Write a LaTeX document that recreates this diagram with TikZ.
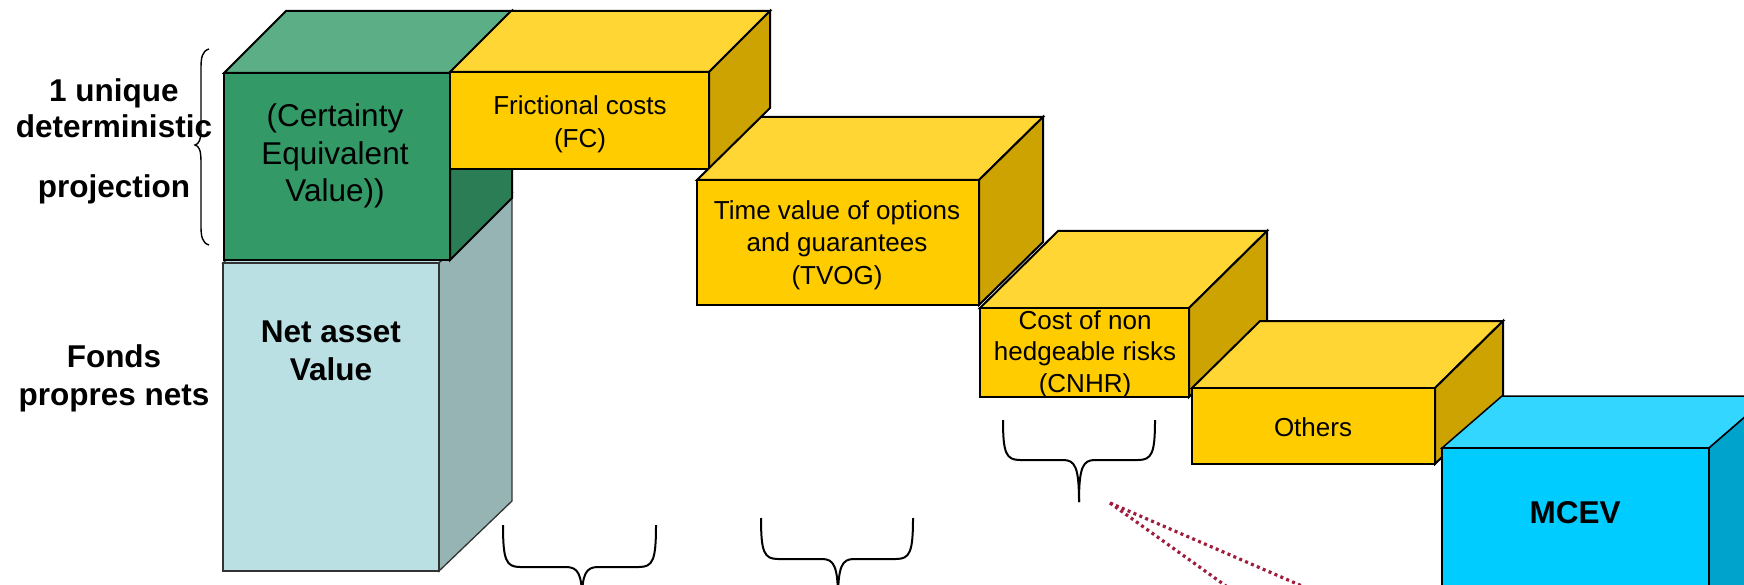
\documentclass[tikz,border=0pt]{standalone}
\usepackage{fontspec}
\setmainfont{Liberation Sans}

\definecolor{ylwfront}{HTML}{FFCC00}
\definecolor{ylwtop}{HTML}{FFD633}
\definecolor{ylwside}{HTML}{CCA300}
\definecolor{grnfront}{HTML}{339966}
\definecolor{grntop}{HTML}{5BAE85}
\definecolor{grnside}{HTML}{2B7D55}
\definecolor{navfront}{HTML}{BAE0E3}
\definecolor{navside}{HTML}{97B4B5}
\definecolor{cynfront}{HTML}{00CCFF}
\definecolor{cyntop}{HTML}{33D6FF}
\definecolor{cynside}{HTML}{00A3CC}
\definecolor{fanred}{HTML}{A01C3C}

% a box seen in oblique view: front rectangle, top face and right face
% #1 left, #2 top, #3 right, #4 bottom, #5/#6 depth offsets, #7 front, #8 top, #9 side
\newcommand\solidblock[9]{%
  \filldraw[blockline, fill=#8] (#1,#2) -- (#1+#5,#2-#6) -- (#3+#5,#2-#6) -- (#3,#2) -- cycle;
  \filldraw[blockline, fill=#9] (#3,#2) -- (#3+#5,#2-#6) -- (#3+#5,#4-#6) -- (#3,#4) -- cycle;
  \filldraw[blockline, fill=#7] (#1,#2) rectangle (#3,#4);
}

\tikzset{
  blockline/.style={draw=black, line width=2},
  bigtxt/.style={inner sep=0pt, align=center, font=\fontsize{31.5}{38}\selectfont},
  boldtxt/.style={inner sep=0pt, align=center, font=\bfseries\fontsize{31.5}{38}\selectfont},
  smalltxt/.style={inner sep=0pt, align=center, font=\fontsize{26}{33}\selectfont},
  bracestroke/.style={draw=black, line width=2},
  fandot/.style={draw=fanred, line width=3.2, dash pattern=on 3pt off 3.4pt},
}

\begin{document}
\begin{tikzpicture}[x=1pt, y=-1pt]
\useasboundingbox (0,0) rectangle (1744,585);

% net asset value column
\begin{scope}[blockline/.style={draw=black!80, line width=1.3}]
  \solidblock{223}{263}{439}{571}{73}{70}{navfront}{navfront}{navside}
\end{scope}
% certainty equivalent value
\solidblock{224}{73}{450}{260}{62}{62}{grnfront}{grntop}{grnside}
% cost blocks
\solidblock{450}{72}{709}{169}{61}{61}{ylwfront}{ylwtop}{ylwside}
\solidblock{697}{180}{979}{305}{64}{63}{ylwfront}{ylwtop}{ylwside}
\solidblock{980}{308}{1189}{397}{78}{77}{ylwfront}{ylwtop}{ylwside}
\solidblock{1192}{388}{1435}{464}{68}{67}{ylwfront}{ylwtop}{ylwside}
% result
\begin{scope}[blockline/.style={draw=black, line width=1.5}]
  \solidblock{1442}{448}{1709}{640}{60}{52}{cynfront}{cyntop}{cynside}
\end{scope}

% texts
\node[boldtxt, font=\bfseries\fontsize{31.5}{36}\selectfont] (lab1) at (114,141)
  {1 unique\\deterministic\\[24pt]projection};
\node[boldtxt] (lab2) at (114,378) {Fonds\\propres nets};
\node[bigtxt, font=\fontsize{31.5}{37.5}\selectfont] (cev) at (335,156)
  {(Certainty\\Equivalent\\Value))};
\node[boldtxt, font=\bfseries\fontsize{31.5}{38.5}\selectfont] (nav) at (331,351)
  {Net asset\\Value};
\node[smalltxt] (fc) at (580,124) {Frictional costs\\(FC)};
\node[smalltxt, font=\fontsize{26}{32.5}\selectfont] (tvog) at (837,245)
  {Time value of options\\and guarantees\\(TVOG)};
\node[smalltxt, font=\fontsize{26}{31.5}\selectfont] (cnhr) at (1085,354)
  {Cost of non\\hedgeable risks\\(CNHR)};
\node[smalltxt] (oth) at (1313,427) {Others};
\node[boldtxt] (mcev) at (1575,513) {MCEV};

% brace beside the deterministic projection
\draw[bracestroke, line width=1.4]
  (209,49) .. controls (202,51) and (201,58) .. (201,68) -- (201,128)
  .. controls (201,140) and (199,144) .. (195,145)
  .. controls (199,146) and (201,150) .. (201,162) -- (201,226)
  .. controls (201,236) and (202,243) .. (209,245);

% braces under the blocks
\draw[bracestroke]
  (503,525) .. controls (503,560) and (506,567) .. (520,567) -- (566,567)
  .. controls (578,567) and (582,574) .. (582,600);
\draw[bracestroke]
  (656,525) .. controls (656,560) and (653,567) .. (639,567) -- (598,567)
  .. controls (586,567) and (582,574) .. (582,600);
\draw[bracestroke]
  (761,518) .. controls (761,552) and (764,559) .. (778,559) -- (822,559)
  .. controls (834,559) and (838,566) .. (838,600);
\draw[bracestroke]
  (913,518) .. controls (913,552) and (910,559) .. (896,559) -- (854,559)
  .. controls (842,559) and (838,566) .. (838,600);
\draw[bracestroke]
  (1003,420) .. controls (1003,453) and (1006,460) .. (1020,460) -- (1063,460)
  .. controls (1075,460) and (1079,467) .. (1079,502);
\draw[bracestroke]
  (1155,420) .. controls (1155,453) and (1152,460) .. (1138,460) -- (1095,460)
  .. controls (1083,460) and (1079,467) .. (1079,502);

% dotted fan towards the bottom
\coordinate (fan) at (1110,503);
\coordinate (fanA) at (1302,586);
\coordinate (fanB) at (1226,586);
\draw[fandot] (fan) -- (fanA);
\draw[fandot] (fan) -- (fanB);
\end{tikzpicture}
\end{document}
